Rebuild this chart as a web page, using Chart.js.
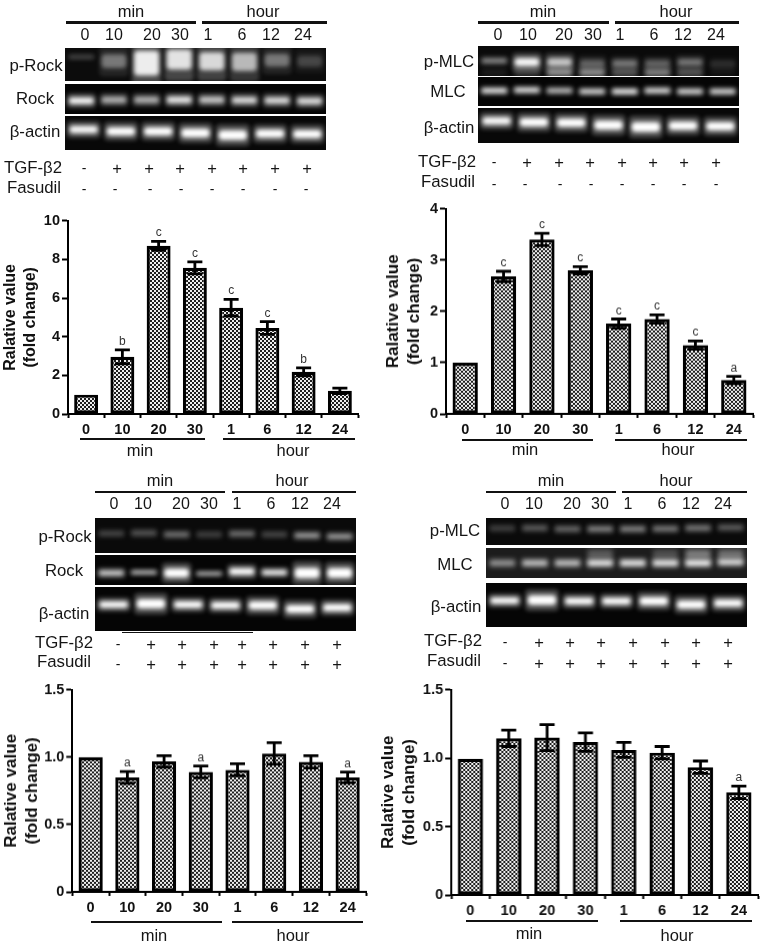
<!DOCTYPE html>
<html>
<head>
<meta charset="utf-8">
<title>Western blots and fold change</title>
<script src="https://cdn.jsdelivr.net/npm/chart.js@4"></script>
<style>
  html, body { margin: 0; background: #fff; }
  #page { position: relative; width: 762px; height: 944px; overflow: hidden; font-family: "Liberation Sans", Arial, sans-serif; color: #151515; filter: blur(0.35px); }
  #page canvas { position: absolute; }
  .txt { position: absolute; white-space: nowrap; transform: translate(-50%, -50%); line-height: 1; }
  .rule { position: absolute; background: #111; }
</style>
</head>
<body>
<div id="page"></div>
<script>
// ============================
// DATA - BAR CHARTS
// ============================
const categories = ['0', '10', '20', '30', '1', '6', '12', '24'];
const laneLabels = ['0', '10', '20', '30', '1', '6', '12', '24'];
const yAxisTitle = ['Ralative value', '(fold change)'];

const rockValues = [1, 2.96, 8.7, 7.56, 5.5, 4.45, 2.18, 1.2];
const rockErrors = [0, 0.36, 0.23, 0.31, 0.43, 0.33, 0.21, 0.14];
const rockLetters = ['', 'b', 'c', 'c', 'c', 'c', 'b', ''];

const mlcValues = [1, 2.68, 3.4, 2.8, 1.76, 1.85, 1.34, 0.66];
const mlcErrors = [0, 0.1, 0.12, 0.07, 0.09, 0.08, 0.08, 0.07];
const mlcLetters = ['', 'c', 'c', 'c', 'c', 'c', 'c', 'a'];

const rockFasValues = [1, 0.85, 0.968, 0.89, 0.906, 1.027, 0.965, 0.85];
const rockFasErrors = [0, 0.044, 0.042, 0.044, 0.045, 0.08, 0.045, 0.04];
const rockFasLetters = ['', 'a', '', 'a', '', '', '', 'a'];

const mlcFasValues = [0.995, 1.145, 1.15, 1.117, 1.06, 1.04, 0.934, 0.75];
const mlcFasErrors = [0, 0.06, 0.095, 0.067, 0.055, 0.045, 0.045, 0.046];
const mlcFasLetters = ['', '', '', '', '', '', '', 'a'];

// ============================
// DATA - TREATMENT MARKS
// ============================
const tgfMarks = ['-', '+', '+', '+', '+', '+', '+', '+'];
const noFasudilMarks = ['-', '-', '-', '-', '-', '-', '-', '-'];
const fasudilMarks = ['-', '+', '+', '+', '+', '+', '+', '+'];

// ============================
// DATA - BLOT BANDS (brightness 0-1, height inside panel 0-1)
// ============================
const pRockA = [0.2, 0.38, 0.9, 0.85, 0.8, 0.65, 0.38, 0.2];
const pRockAMid = [0.27, 0.4, 0.46, 0.35, 0.4, 0.42, 0.37, 0.4];
const pRockASize = [0.1, 0.38, 0.68, 0.55, 0.5, 0.5, 0.35, 0.3];
const rockA = [0.95, 0.6, 0.6, 0.85, 0.7, 0.8, 0.8, 0.8];
const rockAMid = [0.56, 0.53, 0.53, 0.53, 0.53, 0.54, 0.55, 0.57];
const actinA = [0.95, 1, 1, 1, 1, 1, 1];
const actinAMid = [0.4, 0.45, 0.45, 0.5, 0.56, 0.52, 0.53];
const actinASize = [0.2, 0.22, 0.22, 0.24, 0.26, 0.22, 0.22];

const pMlcB = [0.45, 0.95, 0.7, 0.3, 0.38, 0.3, 0.38, 0.12];
const pMlcBMid = [0.49, 0.54, 0.54, 0.58, 0.58, 0.58, 0.54, 0.6];
const pMlcBSize = [0.14, 0.25, 0.25, 0.22, 0.2, 0.2, 0.2, 0.2];
const pMlcBLower = [0.06, 0.15, 0.45, 0.45, 0.25, 0.4, 0.25, 0.04];
const pMlcBLowerMid = [0.88, 0.88, 0.88, 0.88, 0.88, 0.88, 0.88, 0.88];
const mlcB = [0.9, 0.85, 0.7, 0.8, 0.9, 0.85, 0.8, 0.8];
const mlcBMid = [0.47, 0.45, 0.47, 0.5, 0.5, 0.47, 0.5, 0.5];
const actinB = [0.95, 1, 1, 1, 1, 1, 1];
const actinBMid = [0.37, 0.41, 0.42, 0.49, 0.54, 0.51, 0.52];
const actinBSize = [0.2, 0.22, 0.22, 0.24, 0.26, 0.22, 0.22];

const pRockC = [0.2, 0.25, 0.35, 0.18, 0.35, 0.2, 0.5, 0.5];
const pRockCMid = [0.44, 0.43, 0.47, 0.47, 0.45, 0.47, 0.5, 0.53];
const rockC = [0.75, 0.7, 1, 0.65, 1, 0.9, 1, 1];
const rockCMid = [0.6, 0.58, 0.6, 0.62, 0.55, 0.58, 0.6, 0.6];
const rockCSize = [0.15, 0.1, 0.28, 0.1, 0.2, 0.15, 0.32, 0.3];
const actinC = [1, 1, 1, 1, 1, 1, 1];
const actinCMid = [0.4, 0.38, 0.4, 0.42, 0.42, 0.5, 0.47];
const actinCSize = [0.13, 0.2, 0.14, 0.14, 0.17, 0.17, 0.15];

const pMlcD = [0.18, 0.28, 0.32, 0.42, 0.42, 0.38, 0.38, 0.28];
const pMlcDMid = [0.38, 0.37, 0.41, 0.41, 0.41, 0.4, 0.37, 0.35];
const mlcD = [0.45, 0.65, 0.65, 0.85, 0.85, 0.85, 0.9, 0.8];
const mlcDMid = [0.5, 0.5, 0.5, 0.5, 0.5, 0.5, 0.5, 0.47];
const mlcDUpper = [0, 0, 0, 0.22, 0, 0.18, 0.35, 0.3];
const mlcDUpperMid = [0.2, 0.2, 0.2, 0.2, 0.2, 0.2, 0.2, 0.2];
const actinD = [1, 1, 1, 1, 1, 1, 1];
const actinDMid = [0.4, 0.39, 0.41, 0.41, 0.41, 0.49, 0.46];
const actinDSize = [0.13, 0.2, 0.14, 0.14, 0.17, 0.17, 0.15];

// ============================
// SMALL DOM HELPERS
// ============================
const page = document.getElementById('page');

function addText(text, x, y, size, weight) {
  const el = document.createElement('div');
  el.className = 'txt';
  el.textContent = text;
  el.style.left = x + 'px';
  el.style.top = y + 'px';
  el.style.fontSize = size + 'px';
  if (weight) el.style.fontWeight = weight;
  page.appendChild(el);
}

function addRule(x1, x2, y, thick) {
  const el = document.createElement('div');
  el.className = 'rule';
  el.style.left = x1 + 'px';
  el.style.width = (x2 - x1) + 'px';
  el.style.top = (y - thick / 2) + 'px';
  el.style.height = thick + 'px';
  page.appendChild(el);
}

function addCanvas(x, y, w, h) {
  const c = document.createElement('canvas');
  c.width = w;
  c.height = h;
  c.style.left = x + 'px';
  c.style.top = y + 'px';
  c.style.width = w + 'px';
  c.style.height = h + 'px';
  page.appendChild(c);
  return c;
}

// ============================
// BLOT PANELS
// ============================
const blotPlugin = {
  id: 'blot',
  beforeDraw(chart, args, opts) {
    const { ctx, width, height } = chart;
    ctx.save();
    ctx.fillStyle = opts.bg;
    ctx.fillRect(0, 0, width, height);
    ctx.restore();
  },
  beforeDatasetsDraw(chart) {
    chart.ctx.save();
    chart.ctx.filter = 'blur(2.2px)';
  },
  afterDatasetsDraw(chart) {
    chart.ctx.restore();
  }
};

function bandDataset(bright, mid, size, stretch, alpha, widthPct) {
  const sizes = bright.map((_, i) => (Array.isArray(size) ? size[i] : size));
  return {
    data: bright.map((_, i) => [mid[i] - sizes[i] * stretch / 2, mid[i] + sizes[i] * stretch / 2]),
    backgroundColor: bright.map(b => `rgba(255,255,255,${b * alpha})`),
    barPercentage: widthPct,
    categoryPercentage: 1,
    borderRadius: 4,
    borderSkipped: false
  };
}

function drawBlot(box, bg, bands) {
  const [x, y1, x2, y2] = box;
  const canvas = addCanvas(x, y1, x2 - x, y2 - y1);
  const datasets = [];
  bands.forEach(b => {
    datasets.push(bandDataset(b.bright, b.mid, b.size, 2.4, 0.28, 0.9));
    datasets.push(bandDataset(b.bright, b.mid, b.size, 1.1, 1, 0.76));
  });
  new Chart(canvas, {
    type: 'bar',
    data: { labels: bands[0].bright.map((_, i) => i), datasets },
    options: {
      responsive: false,
      animation: false,
      events: [],
      layout: { padding: 0 },
      scales: {
        x: { display: false, stacked: false, grid: { display: false } },
        y: { display: false, min: 0, max: 1, reverse: true }
      },
      datasets: { bar: { grouped: false } },
      plugins: { legend: { display: false }, tooltip: { enabled: false }, blot: { bg } }
    },
    plugins: [blotPlugin]
  });
}

// ============================
// BAR CHARTS
// ============================
function checkerPattern() {
  const tile = document.createElement('canvas');
  tile.width = 4;
  tile.height = 4;
  const t = tile.getContext('2d');
  t.fillStyle = '#eeeeee';
  t.fillRect(0, 0, 4, 4);
  t.fillStyle = '#1e1e1e';
  t.fillRect(0, 0, 2, 2);
  t.fillRect(2, 2, 2, 2);
  return t.createPattern(tile, 'repeat');
}

const errorBarPlugin = {
  id: 'errorBars',
  afterDatasetsDraw(chart, args, opts) {
    const { ctx, scales: { x, y } } = chart;
    ctx.save();
    ctx.strokeStyle = '#000';
    ctx.lineWidth = 2.8;
    opts.errors.forEach((err, i) => {
      const cx = x.getPixelForValue(i);
      const val = opts.values[i];
      const top = y.getPixelForValue(val + err);
      const low = y.getPixelForValue(val - err);
      if (err > 0) {
        ctx.beginPath();
        ctx.moveTo(cx, top);
        ctx.lineTo(cx, low);
        ctx.moveTo(cx - 7.5, top);
        ctx.lineTo(cx + 7.5, top);
        ctx.moveTo(cx - 7.5, low);
        ctx.lineTo(cx + 7.5, low);
        ctx.stroke();
      }
      if (opts.letters[i]) {
        ctx.fillStyle = '#333';
        ctx.font = '12px "Liberation Sans"';
        ctx.textAlign = 'center';
        ctx.textBaseline = 'alphabetic';
        ctx.fillText(opts.letters[i], cx, top - 5);
      }
    });
    ctx.restore();
  }
};

function drawBars(cfg) {
  const padTop = 10;
  const xHeight = 30;
  const canvas = addCanvas(cfg.left, cfg.top - padTop, cfg.right + 2 - cfg.left, cfg.bottom - cfg.top + padTop + xHeight);
  new Chart(canvas, {
    type: 'bar',
    data: {
      labels: categories,
      datasets: [{
        data: cfg.values,
        backgroundColor: checkerPattern(),
        borderColor: '#000',
        borderWidth: 3.2,
        borderSkipped: false,
        barPercentage: 0.66,
        categoryPercentage: 1
      }]
    },
    options: {
      responsive: false,
      animation: false,
      events: [],
      layout: { padding: { top: padTop, right: 2, left: 0, bottom: 0 } },
      scales: {
        x: {
          afterFit: s => { s.height = xHeight; },
          border: { color: '#000', width: 2 },
          grid: { drawOnChartArea: false, tickColor: '#000', tickWidth: 2, tickLength: 4 },
          ticks: { color: '#111', padding: 3, maxRotation: 0, font: { family: 'Liberation Sans', size: 14.5, weight: 'bold' } }
        },
        y: {
          min: 0,
          max: cfg.max,
          afterFit: s => { s.width = cfg.axis - cfg.left; },
          border: { color: '#000', width: 2 },
          grid: { drawOnChartArea: false, tickColor: '#000', tickWidth: 2, tickLength: 6 },
          ticks: { stepSize: cfg.step, color: '#111', padding: 2, font: { family: 'Liberation Sans', size: 14.5, weight: 'bold' } },
          title: {
            display: true,
            text: yAxisTitle,
            color: '#111',
            padding: { top: cfg.titlePad, bottom: 0 },
            font: { family: 'Liberation Sans', size: cfg.titleSize, weight: 'bold', lineHeight: 1.28 }
          }
        }
      },
      plugins: {
        legend: { display: false },
        tooltip: { enabled: false },
        errorBars: { values: cfg.values, errors: cfg.errors, letters: cfg.letters }
      }
    },
    plugins: [errorBarPlugin]
  });
}

function groupUnderAxis(minLine, hourLine, lineY, minText, hourText) {
  addRule(minLine[0], minLine[1], lineY, 1.4);
  addRule(hourLine[0], hourLine[1], lineY, 1.4);
  addText('min', minText[0], minText[1], 16.5);
  addText('hour', hourText[0], hourText[1], 16.5);
}

function blotHeader(minLine, hourLine, ruleY, minX, hourX, textY, laneXs, laneY) {
  addRule(minLine[0], minLine[1], ruleY, 2.6);
  addRule(hourLine[0], hourLine[1], ruleY, 2.6);
  addText('min', minX, textY, 16.5);
  addText('hour', hourX, textY, 16.5);
  laneLabels.forEach((t, i) => addText(t, laneXs[i], laneY, 16));
}

function markRow(marks, xs, y) {
  marks.forEach((m, i) => {
    if (m === '+') addText(m, xs[i], y, 16.5);
    else addText(m, xs[i], y, 14);
  });
}

// ============================
// TOP LEFT
// ============================
blotHeader([66, 196], [202, 327], 22.7, 131, 263, 11, [85, 114, 152, 180, 208, 242, 271, 303], 35);
drawBlot([65, 48, 326, 81], '#0c0c0c', [{ bright: pRockA, mid: pRockAMid, size: pRockASize }]);
drawBlot([65, 84, 326, 114], '#050505', [{ bright: rockA, mid: rockAMid, size: 0.2 }]);
drawBlot([65, 116, 326, 150], '#080808', [{ bright: actinA, mid: actinAMid, size: actinASize }]);
addText('p-Rock', 36, 66, 16.8);
addText('Rock', 35, 99, 16.8);
addText('β-actin', 35, 132, 16.8);
addText('TGF-β2', 33, 168, 16.8);
addText('Fasudil', 34, 188, 16.8);
markRow(tgfMarks, [84, 117, 149, 180, 212, 243, 275, 307], 168);
markRow(noFasudilMarks, [84, 115, 150, 181, 212, 243, 275, 306], 189);

drawBars({
  left: 0, axis: 68, right: 358.3, top: 219.5, bottom: 413.5, max: 10, step: 2, titleSize: 16, titlePad: 0,
  values: rockValues, errors: rockErrors, letters: rockLetters
});
groupUnderAxis([80, 205], [223, 355], 439, [140, 450], [293, 450]);

// ============================
// TOP RIGHT
// ============================
blotHeader([478, 609], [615, 739], 22.7, 543, 676, 11, [498, 528, 564, 593, 620, 654, 683, 716], 35);
drawBlot([478, 46, 739, 76], '#0a0a0a', [
  { bright: pMlcB, mid: pMlcBMid, size: pMlcBSize },
  { bright: pMlcBLower, mid: pMlcBLowerMid, size: 0.2 }
]);
drawBlot([478, 77, 739, 106], '#050505', [{ bright: mlcB, mid: mlcBMid, size: 0.14 }]);
drawBlot([478, 108, 739, 143], '#080808', [{ bright: actinB, mid: actinBMid, size: actinBSize }]);
addText('p-MLC', 449, 62, 16.8);
addText('MLC', 448, 92, 16.8);
addText('β-actin', 449, 128, 16.8);
addText('TGF-β2', 447, 162, 16.8);
addText('Fasudil', 448, 182, 16.8);
markRow(tgfMarks, [494, 527, 559, 590, 622, 653, 684, 716], 162);
markRow(noFasudilMarks, [494, 525, 560, 591, 622, 653, 684, 716], 184);

drawBars({
  left: 381, axis: 446, right: 753, top: 208.3, bottom: 413.7, max: 4, step: 1, titleSize: 17, titlePad: 1,
  values: mlcValues, errors: mlcErrors, letters: mlcLetters
});
groupUnderAxis([462, 593], [615, 747], 440, [525, 449], [678, 449]);

// ============================
// BOTTOM LEFT
// ============================
blotHeader([95, 225], [232, 356], 492, 160, 292, 480, [114, 143, 181, 209, 237, 271, 300, 332], 504);
drawBlot([95, 518, 356, 553], '#0a0a0a', [{ bright: pRockC, mid: pRockCMid, size: 0.13 }]);
drawBlot([95, 555, 356, 585], '#050505', [{ bright: rockC, mid: rockCMid, size: rockCSize }]);
drawBlot([95, 587, 356, 631], '#050505', [{ bright: actinC, mid: actinCMid, size: actinCSize }]);
addRule(122, 253, 632.5, 1.6);
addText('p-Rock', 65, 537, 16.8);
addText('Rock', 64, 571, 16.8);
addText('β-actin', 64, 614, 16.8);
addText('TGF-β2', 64, 643, 16.8);
addText('Fasudil', 64, 662, 16.8);
markRow(tgfMarks, [118, 151, 182, 214, 242, 273, 305, 337], 644);
markRow(fasudilMarks, [118, 151, 182, 214, 242, 273, 305, 337], 664);

drawBars({
  left: 0, axis: 72.3, right: 366, top: 689, bottom: 891.7, max: 1.5, step: 0.5, titleSize: 17, titlePad: 0,
  values: rockFasValues, errors: rockFasErrors, letters: rockFasLetters
});
groupUnderAxis([91, 222], [232, 363], 922, [154, 935], [293, 935]);

// ============================
// BOTTOM RIGHT
// ============================
blotHeader([486, 616], [622, 747], 492, 551, 676, 480, [505, 534, 572, 600, 628, 662, 691, 723], 504);
drawBlot([486, 518, 747, 545], '#0a0a0a', [{ bright: pMlcD, mid: pMlcDMid, size: 0.17 }]);
drawBlot([486, 548, 747, 578], '#1c1c1c', [
  { bright: mlcDUpper, mid: mlcDUpperMid, size: 0.25 },
  { bright: mlcD, mid: mlcDMid, size: 0.16 }
]);
drawBlot([486, 583, 747, 627], '#050505', [{ bright: actinD, mid: actinDMid, size: actinDSize }]);
addText('p-MLC', 455, 531, 16.8);
addText('MLC', 455, 565, 16.8);
addText('β-actin', 456, 607, 16.8);
addText('TGF-β2', 453, 641, 16.8);
addText('Fasudil', 454, 661, 16.8);
markRow(tgfMarks, [505, 539, 570, 601, 633, 665, 696, 728], 642);
markRow(fasudilMarks, [505, 539, 570, 601, 633, 665, 696, 728], 663);

drawBars({
  left: 377, axis: 451, right: 757.7, top: 689, bottom: 895, max: 1.5, step: 0.5, titleSize: 17, titlePad: 0,
  values: mlcFasValues, errors: mlcFasErrors, letters: mlcFasLetters
});
groupUnderAxis([466, 598], [620, 752], 921, [529, 933], [677, 935]);
</script>
</body>
</html>
